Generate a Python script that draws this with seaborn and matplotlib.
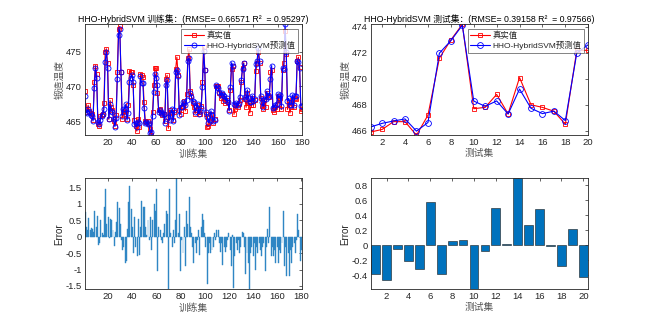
import numpy as np
import pandas as pd
import matplotlib
matplotlib.use("Agg")
import matplotlib.pyplot as plt
import seaborn as sns

# ---------------- data ----------------
true_train = [
    469.4, 466.7, 466.4, 467.3, 466.5, 466.2, 466.0, 465.2, 470.6, 473.0,
    471.8, 464.6, 464.4, 465.7, 465.9, 466.1, 467.6, 475.0, 475.4, 473.3,
    465.3, 468.0, 467.0, 466.6, 465.0, 464.4, 465.9, 472.1, 478.3, 478.6,
    472.0, 465.4, 466.4, 466.0, 466.7, 465.4, 467.3, 472.2, 472.1, 472.0,
    470.2, 465.2, 464.4, 463.6, 465.4, 464.2, 471.8, 471.6, 471.4, 467.8,
    465.0, 464.9, 465.1, 464.6, 463.9, 463.0, 466.3, 470.2, 472.6, 472.7,
    469.1, 466.6, 466.8, 466.2, 465.9, 466.1, 465.1, 471.0, 471.6, 464.0,
    466.6, 466.2, 466.4, 465.2, 466.4, 472.5, 474.2, 471.6, 466.6, 466.0,
    467.0, 467.2, 467.9, 466.5, 468.9, 474.1, 475.3, 469.3, 468.6, 467.6,
    467.0, 466.1, 466.6, 467.4, 466.3, 466.0, 467.2, 470.6, 475.6, 472.4,
    466.0, 464.2, 464.3, 465.0, 466.0, 465.5, 464.8, 465.3, 470.1, 470.1,
    470.0, 469.0, 468.3, 468.9, 467.9, 468.3, 467.6, 468.0, 467.7, 466.6,
    469.5, 472.5, 473.0, 466.0, 466.8, 467.4, 467.0, 467.5, 468.0, 470.6,
    472.7, 473.4, 468.2, 467.0, 469.0, 467.6, 466.2, 467.3, 468.4, 467.3,
    468.0, 472.2, 473.4, 475.0, 473.4, 468.3, 467.2, 466.8, 468.0, 467.1,
    469.0, 468.8, 468.5, 472.0, 472.4, 466.6, 466.4, 467.0, 466.7, 468.6,
    467.5, 468.4, 466.7, 472.4, 473.3, 478.0, 474.6, 466.7, 467.8, 466.2,
    467.0, 468.0, 467.0, 468.4, 468.2, 473.6, 474.2, 472.8, 466.5, 466.8,
]
err_train = [
    0.75, 0.30, 0.20, 0.57, 0.20, 0.28, 0.25, 0.15, 0.80, 0.30,
    0.62, -0.25, -0.20, 0.50, 0.10, 0.05, 0.90, 1.45, 0.40, 0.60,
    -0.05, 0.55, 0.50, 0.20, -0.27, 0.15, 0.45, 1.07, 0.88, 0.38,
    -0.10, -0.40, -0.30, -0.80, -0.75, 0.23, 1.05, 1.55, 0.85, 0.30,
    -0.50, 0.60, -0.30, -0.60, 0.55, -0.55, 0.30, 1.10, 0.90, 0.90,
    0.30, 0.05, 0.50, -0.10, 0.60, -0.40, 0.50, 1.00, 0.80, 1.45,
    -1.05, 0.30, 0.20, -0.10, -0.20, 0.10, 0.40, 0.80, 0.70, -1.60,
    1.45, 0.10, -0.30, 0.20, -0.20, 0.50, 1.78, 0.10, 0.70, -1.05,
    -0.10, -0.50, 0.30, -0.90, 0.80, 0.40, 1.20, 0.30, 0.10, -0.30,
    -0.80, -0.20, -0.50, -0.10, 0.20, -0.55, 0.30, 0.70, 0.50, 0.10,
    -0.30, -1.45, -0.50, -0.20, -0.50, -0.40, -0.30, 0.10, -0.10, 0.22,
    0.20, -0.20, -0.45, -0.20, -0.85, -0.30, -0.45, -0.30, -0.10, 0.10,
    -0.40, -0.90, 0.05, -1.55, -0.60, -0.20, -0.40, -0.10, -0.50, -0.30,
    0.15, 0.10, -0.30, -1.15, -0.50, -0.80, -1.60, -0.50, -0.30, -0.60,
    -0.20, -1.00, -0.30, -0.50, -0.20, -0.40, -0.60, -0.30, -0.20, -1.05,
    -0.30, 0.25, -0.20, 0.90, -0.60, -0.30, -0.60, -0.40, -0.80, -0.30,
    -0.80, -0.40, -0.50, -0.20, 0.78, -0.90, -0.30, -1.20, -0.50, -1.20,
    -0.40, -0.80, -0.30, -0.20, -0.50, -0.10, 0.70, 0.20, -0.75, -0.40,
]
true_test = [465.9, 466.1, 466.7, 466.7, 465.65, 467.2, 471.6, 473.0, 474.2, 467.7,
             467.8, 468.8, 467.3, 470.1, 468.0, 467.8, 467.5, 466.5, 472.2, 472.2]
err_test = [-0.39, -0.47, -0.05, -0.21, -0.32, 0.57, -0.38, 0.06, 0.07, -0.59,
            -0.08, 0.50, 0.01, 0.89, 0.27, 0.48, -0.01, -0.28, 0.21, -0.43]

title_train = "HHO-HybridSVM 训练集：(RMSE= 0.66571 R²  = 0.95297)"
title_test = "HHO-HybridSVM 测试集：(RMSE= 0.39158 R²  = 0.97566)"
label_true = "真实值"
label_pred = "HHO-HybridSVM预测值"
ylabel_top = "锻造温度"
xlabel_train = "训练集"
xlabel_test = "测试集"

# ---------------- frames ----------------
n_tr = len(true_train)
n_te = len(true_test)
df_tr = pd.DataFrame({"idx": np.arange(1, n_tr + 1),
                      "true": true_train, "err": err_train})
df_tr["pred"] = df_tr["true"] - df_tr["err"]
df_te = pd.DataFrame({"idx": np.arange(1, n_te + 1),
                      "true": true_test, "err": err_test})
df_te["pred"] = df_te["true"] - df_te["err"]

# ---------------- style ----------------
sns.set_style("white")
plt.rcParams["font.family"] = ["Liberation Sans", "Noto Sans CJK SC"]
plt.rcParams["axes.unicode_minus"] = False

AX_COL = "#262626"
LBL_COL = "#555555"
fs_tick = 6.8
fs_title = 6.3
fs_label = 7.0

fig = plt.figure(figsize=(6.5, 3.25), dpi=100)
fig.patch.set_facecolor("white")
positions = {
    "tl": [0.13, 0.5838, 0.3347, 0.3412],
    "tr": [0.5703, 0.5838, 0.3347, 0.3412],
    "bl": [0.13, 0.11, 0.3347, 0.3412],
    "br": [0.5703, 0.11, 0.3347, 0.3412],
}
axes = {k: fig.add_axes(v) for k, v in positions.items()}


def style_axis(ax):
    for s in ax.spines.values():
        s.set_visible(True)
        s.set_color(AX_COL)
        s.set_linewidth(0.6)
    ax.tick_params(direction="in", top=True, right=True, length=2.5,
                   width=0.5, colors=AX_COL, labelsize=fs_tick, pad=2)
    ax.set_facecolor("white")


def line_panel(ax, df, title, xlabel, xticks, ms_sq, ms_ci):
    sns.lineplot(data=df, x="idx", y="true", ax=ax, color="r", lw=0.8,
                 marker="s", markersize=ms_sq, markerfacecolor="none",
                 markeredgecolor="r", markeredgewidth=0.6, label=label_true)
    sns.lineplot(data=df, x="idx", y="pred", ax=ax, color="b", lw=0.8,
                 marker="o", markersize=ms_ci, markerfacecolor="none",
                 markeredgecolor="b", markeredgewidth=0.6, label=label_pred)
    ax.set_xlim(1, len(df))
    lo = min(df["true"].min(), df["pred"].min())
    hi = max(df["true"].max(), df["pred"].max())
    ax.set_ylim(lo, hi)
    ax.set_xticks(xticks)
    ax.set_title(title, fontsize=fs_title, color="black", pad=2)
    ax.set_xlabel(xlabel, fontsize=fs_label, color=LBL_COL, labelpad=1)
    ax.set_ylabel(ylabel_top, fontsize=fs_label, color=LBL_COL, labelpad=1)
    style_axis(ax)
    leg = ax.legend(loc="upper right", fontsize=6, frameon=True,
                    fancybox=False, borderpad=0.3, handlelength=2.4,
                    handletextpad=0.3, labelspacing=0.2, borderaxespad=0.5,
                    markerscale=1.0)
    leg.get_frame().set_edgecolor("#262626")
    leg.get_frame().set_linewidth(0.5)


def bar_panel(ax, df, xlabel, xticks, color, edge, lw, xpad):
    sns.barplot(data=df, x="idx", y="err", ax=ax, native_scale=True,
                color=color, saturation=1, width=0.8, errorbar=None,
                edgecolor=edge, linewidth=lw)
    ax.set_xlim(1 - xpad, len(df) + xpad)
    ax.set_ylim(df["err"].min(), df["err"].max())
    ax.set_xticks(xticks)
    ax.set_xticklabels([str(t) for t in xticks])
    ax.set_xlabel(xlabel, fontsize=fs_label, color=LBL_COL, labelpad=1)
    ax.set_ylabel("Error", fontsize=fs_label, color=AX_COL, labelpad=1)
    style_axis(ax)


line_panel(axes["tl"], df_tr, title_train, xlabel_train,
           list(range(20, 181, 20)), 2.6, 3.6)
axes["tl"].set_yticks([465, 470, 475])
line_panel(axes["tr"], df_te, title_test, xlabel_test,
           list(range(2, 21, 2)), 3.0, 4.2)
axes["tr"].set_yticks([466, 468, 470, 472, 474])

bar_panel(axes["bl"], df_tr, xlabel_train, list(range(20, 181, 20)),
          "#2f86c4", "#2f86c4", 0.3, 0.6)
axes["bl"].set_yticks([-1.5, -1, -0.5, 0, 0.5, 1, 1.5])
axes["bl"].set_yticklabels(["-1.5", "-1", "-0.5", "0", "0.5", "1", "1.5"])
bar_panel(axes["br"], df_te, xlabel_test, list(range(2, 21, 2)),
          "#0072BD", "#1a1a1a", 0.4, 0.45)
axes["br"].set_yticks([-0.4, -0.2, 0, 0.2, 0.4, 0.6, 0.8])
axes["br"].set_yticklabels(["-0.4", "-0.2", "0", "0.2", "0.4", "0.6", "0.8"])

fig.savefig("out.png", dpi=100, facecolor="white")
